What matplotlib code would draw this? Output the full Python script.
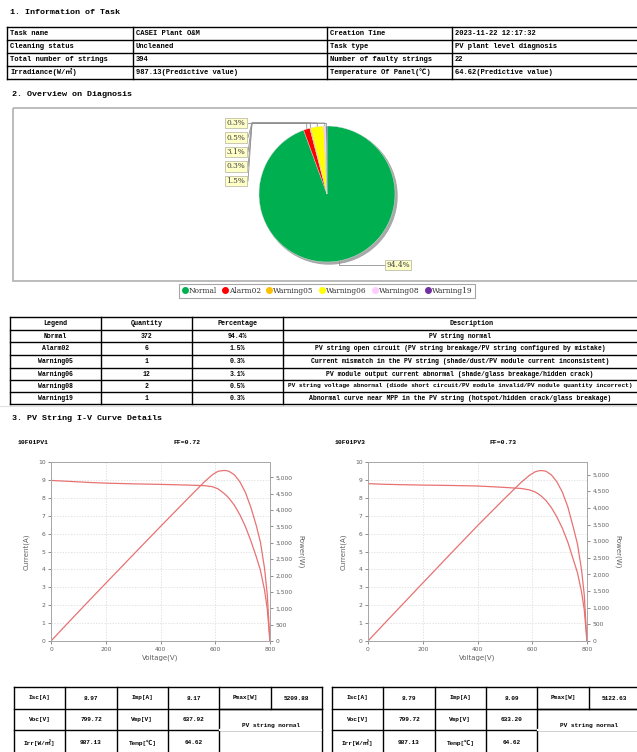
import matplotlib
matplotlib.use('Agg')
import matplotlib.pyplot as plt
import numpy as np
from matplotlib.patches import Rectangle, Circle
from matplotlib.lines import Line2D
from matplotlib.ticker import FuncFormatter

# ---- data ----
task_rows = [
    ['Task name', 'CASEI Plant O&M', 'Creation Time', '2023-11-22 12:17:32'],
    ['Cleaning status', 'Uncleaned', 'Task type', 'PV plant level diagnosis'],
    ['Total number of strings', '394', 'Number of faulty strings', '22'],
    ['Irradiance(W/㎡)', '987.13(Predictive value)', 'Temperature Of Panel(℃)', '64.62(Predictive value)'],
]

categories = ['Normal', 'Alarm02', 'Warning05', 'Warning06', 'Warning08', 'Warning19']
quantities = [372, 6, 1, 12, 2, 1]
percent_labels = ['94.4%', '1.5%', '0.3%', '3.1%', '0.5%', '0.3%']
cat_colors = ['#00B050', '#FF0000', '#FFC000', '#FFFF00', '#FFCCFF', '#7030A0']
descriptions = [
    'PV string normal',
    'PV string open circuit (PV string breakage/PV string configured by mistake)',
    'Current mismatch in the PV string (shade/dust/PV module current inconsistent)',
    'PV module output current abnormal (shade/glass breakage/hidden crack)',
    'PV string voltage abnormal (diode short circuit/PV module invalid/PV module quantity incorrect)',
    'Abnormal curve near MPP in the PV string (hotspot/hidden crack/glass breakage)',
]

# I-V curves of the two strings
pv1_name, pv1_ff = '10F01PV1', 'FF=0.72'
pv1_v = [0, 50, 100, 150, 200, 300, 400, 500, 560, 590, 610, 625, 637.92, 650, 670, 690,
         710, 730, 750, 765, 780, 790, 799.72]
pv1_i = [8.97, 8.93, 8.89, 8.85, 8.82, 8.78, 8.75, 8.71, 8.68, 8.62, 8.50, 8.33, 8.17, 7.98,
         7.58, 7.05, 6.40, 5.60, 4.70, 3.95, 2.85, 1.80, 0]
pv1_table = [('Isc[A]', '8.97'), ('Imp[A]', '8.17'), ('Pmax[W]', '5209.88'),
             ('Voc[V]', '799.72'), ('Vmp[V]', '637.92'),
             ('Irr[W/㎡]', '987.13'), ('Temp[℃]', '64.62')]
pv1_pmax = 5209.88

pv2_name, pv2_ff = '10F01PV3', 'FF=0.73'
pv2_v = [0, 50, 100, 200, 300, 400, 500, 560, 590, 610, 622, 633.2, 650, 670, 690, 710,
         730, 750, 765, 780, 790, 799.72]
pv2_i = [8.79, 8.76, 8.74, 8.71, 8.69, 8.66, 8.58, 8.52, 8.44, 8.33, 8.22, 8.09, 7.85,
         7.45, 6.93, 6.30, 5.52, 4.55, 3.82, 2.75, 1.75, 0]
pv2_table = [('Isc[A]', '8.79'), ('Imp[A]', '8.09'), ('Pmax[W]', '5122.63'),
             ('Voc[V]', '799.72'), ('Vmp[V]', '633.20'),
             ('Irr[W/㎡]', '987.13'), ('Temp[℃]', '64.62')]
pv2_pmax = 5122.63
status_text = 'PV string normal'

# ---- page ----
W, H = 637, 752
fig = plt.figure(figsize=(W / 100, H / 100), dpi=100)
bg = fig.add_axes([0, 0, 1, 1])
bg.set_xlim(0, W)
bg.set_ylim(H, 0)
bg.axis('off')

MONO = ['Liberation Mono', 'Noto Sans CJK SC']


def px_axes(x0, y0, x1, y1):
    return fig.add_axes([x0 / W, 1 - y1 / H, (x1 - x0) / W, (y1 - y0) / H])


def txt(x, y, s, ha='left', size=5.3, bold=True, color='black', **kw):
    bg.text(x, y, s, ha=ha, va='center', fontsize=size, color=color,
            fontweight='bold' if bold else 'normal', family=MONO, clip_on=False, **kw)


def grid_lines(xs, ys, lw=0.8):
    for y in ys:
        bg.plot([xs[0], xs[-1]], [y, y], color='black', lw=lw)
    for x in xs:
        bg.plot([x, x], [ys[0], ys[-1]], color='black', lw=lw)


# 1. task info
txt(10, 12, '1. Information of Task', size=6)
t1_x = [7, 133, 327, 452, 645]
t1_y = [27, 40, 53, 66, 79]
grid_lines(t1_x, t1_y, lw=1.0)
for r, row in enumerate(task_rows):
    yc = (t1_y[r] + t1_y[r + 1]) / 2
    for c, val in enumerate(row):
        txt(t1_x[c] + 3, yc, val, size=5.1)

# 2. overview
txt(12, 95, '2. Overview on Diagnosis', size=6)
bg.add_patch(Rectangle((13, 108), 640, 173, fill=False, ec='#B0B0B0', lw=1.2))

cx, cy, r = 327, 194, 68
bg.add_patch(Circle((cx + 2, cy + 2), r, color='#A8A8A8', zorder=1))
pie_ax = px_axes(cx - r, cy - r, cx + r, cy + r)
wedges, _ = pie_ax.pie(quantities, colors=cat_colors, startangle=90, counterclock=False,
                       radius=1, wedgeprops=dict(lw=0.3, ec='#DDDDDD'))
pie_ax.set_xlim(-1, 1)
pie_ax.set_ylim(-1, 1)
pie_ax.axis('off')

total = sum(quantities)
ang = 90.0
mids = []
for q in quantities:
    span = 360.0 * q / total
    mids.append(ang - span / 2)
    ang -= span

lbl_box = dict(boxstyle='square,pad=0.2', fc='#FFFFC8', ec='#B0B0A0', lw=0.5)
# small slices: labels stacked on the left of the pie
small_order = [5, 4, 3, 2, 1]
for k, idx in enumerate(small_order):
    ly = 123 + k * 14.5
    a = np.radians(mids[idx])
    rx, ry = cx + r * np.cos(a), cy - r * np.sin(a)
    bg.plot([rx, rx, 252, 248], [ry + 2, 123, 123, ly], color='#909090', lw=0.6, zorder=3)
    bg.text(236, ly, percent_labels[idx], ha='center', va='center', fontsize=5.3,
            family='DejaVu Serif', color='#404040', bbox=lbl_box, zorder=4)
a = np.radians(mids[0])
rx, ry = cx + r * np.cos(a), cy - r * np.sin(a)
bg.plot([rx, rx, 388], [ry - 2, 265, 265], color='#909090', lw=0.6, zorder=3)
bg.text(398, 265, percent_labels[0], ha='center', va='center', fontsize=5.3,
        family='DejaVu Serif', color='#404040', bbox=lbl_box, zorder=4)

handles = [Line2D([], [], marker='o', ls='', color=c, markersize=4) for c in cat_colors]
leg = bg.legend(handles, categories, ncol=6, loc='center', bbox_to_anchor=(327, 291),
                bbox_transform=bg.transData, frameon=True, fancybox=False,
                handletextpad=0.15, columnspacing=0.7, borderpad=0.35, handlelength=0.8,
                prop=dict(family='DejaVu Serif', size=5.3))
leg.get_frame().set_edgecolor('#909090')
leg.get_frame().set_linewidth(0.8)
for t in leg.get_texts():
    t.set_color('#303030')

# diagnosis table
t2_x = [10, 101, 192, 283, 660]
t2_y = [317, 330, 342, 355, 368, 380, 392, 404]
grid_lines(t2_x, t2_y, lw=1.0)
header = ['Legend', 'Quantity', 'Percentage', 'Description']
for c, h in enumerate(header):
    txt((t2_x[c] + t2_x[c + 1]) / 2, (t2_y[0] + t2_y[1]) / 2, h, ha='center', size=4.9)
for rr in range(len(categories)):
    yc = (t2_y[rr + 1] + t2_y[rr + 2]) / 2
    vals = [categories[rr], str(quantities[rr]), percent_labels[rr]]
    for c, val in enumerate(vals):
        txt((t2_x[c] + t2_x[c + 1]) / 2, yc, val, ha='center', size=4.7)
    dsize = 4.7 if len(descriptions[rr]) < 85 else 4.4
    txt(460, yc, descriptions[rr], ha='center', size=dsize)

bg.plot([0, W], [406, 406], color='#E0E0E0', lw=0.8)

# 3. I-V curves
txt(12, 418, '3. PV String I-V Curve Details', size=6)

CURVE = '#E87272'


def iv_chart(x0, name, ff, v, i, pmax):
    txt(x0 - 33, 443, name, size=4.6)
    txt(x0 + 122, 443, ff, size=4.6)
    ax = px_axes(x0, 462, x0 + 219, 641)
    ax.plot(v, i, color=CURVE, lw=0.9)
    ax.set_xlim(0, 800)
    ax.set_ylim(0, 10)
    ax.set_xticks([0, 200, 400, 600, 800])
    ax.set_yticks(range(0, 11))
    ax.grid(True, ls=(0, (2, 2)), color='#D8D8D8', lw=0.5)
    ax.tick_params(labelsize=4.3, colors='#606060', length=2, width=0.5, pad=2)
    for s in ax.spines.values():
        s.set_color('#A8A8A8')
        s.set_linewidth(0.7)
    ax.set_xlabel('Voltage(V)', fontsize=5, color='#606060', labelpad=2)
    ax.set_ylabel('Current(A)', fontsize=5, color='#606060', labelpad=6)
    ax2 = ax.twinx()
    p = [vv * ii for vv, ii in zip(v, i)]
    ax2.plot(v, p, color=CURVE, lw=0.9)
    ax2.set_ylim(0, pmax * 1.05)
    ax2.set_yticks(range(0, 5001, 500))
    ax2.yaxis.set_major_formatter(FuncFormatter(lambda val, _: f'{int(val):,}'))
    ax2.tick_params(labelsize=4.3, colors='#606060', length=2, width=0.5, pad=2)
    for s in ax2.spines.values():
        s.set_color('#A8A8A8')
        s.set_linewidth(0.7)
    ax2.set_ylabel('Power(W)', fontsize=5, color='#606060', rotation=270, labelpad=8)


iv_chart(51, pv1_name, pv1_ff, pv1_v, pv1_i, pv1_pmax)
iv_chart(368, pv2_name, pv2_ff, pv2_v, pv2_i, pv2_pmax)


def param_table(x0, x1, rows_data):
    xs = np.linspace(x0, x1, 7)
    ys = [687, 709, 730, 755]
    lw = 1.0
    for y in ys:
        bg.plot([x0, x1], [y, y], color='black', lw=lw)
    bg.plot([xs[4], x1], [ys[1], ys[1]], color='black', lw=lw)
    for k, x in enumerate(xs):
        if k == 5:
            bg.plot([x, x], [ys[0], ys[1]], color='black', lw=lw)
        else:
            bg.plot([x, x], [ys[0], ys[-1]], color='black', lw=lw)
    # merged status cell spans the two lower rows
    bg.plot([xs[4] + 0.6, x1 - 0.6], [ys[2], ys[2]], color='white', lw=1.6)
    cells = [(0, 0), (0, 2), (0, 4), (1, 0), (1, 2), (2, 0), (2, 2)]
    row_y = [698, 719.5, 743]
    for (rr, cc), (lab, val) in zip(cells, rows_data):
        txt((xs[cc] + xs[cc + 1]) / 2, row_y[rr], lab, ha='center', size=4.4)
        txt((xs[cc + 1] + xs[cc + 2]) / 2, row_y[rr], val, ha='center', size=4.4)
    txt((xs[4] + x1) / 2, 725, status_text, ha='center', size=4.4)


param_table(14, 322, pv1_table)
param_table(332, 640, pv2_table)

fig.savefig('out.png', dpi=100)
